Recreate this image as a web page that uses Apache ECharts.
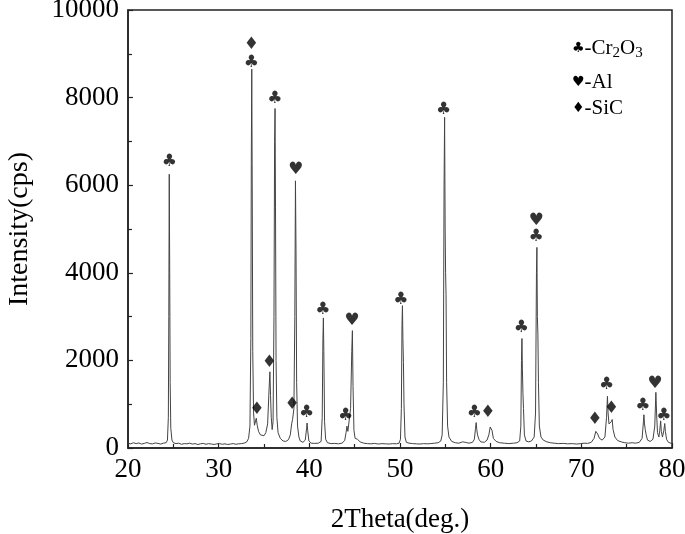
<!DOCTYPE html>
<html>
<head>
<meta charset="utf-8">
<script src="https://cdn.jsdelivr.net/npm/echarts@6/dist/echarts.min.js"></script>
<style>html,body{margin:0;padding:0;background:#fff;}#c{width:685px;height:534px;}</style>
</head>
<body>
<div id="c"></div>
<script>
// 2Theta (deg.) / Intensity (cps) pairs, split by angular range
const range20to34 = [[20.0,110],[20.3,95],[20.6,120],[20.9,100],[21.2,115],[21.5,90],[21.8,105],[22.1,125],[22.4,100],[22.7,95],[23.0,115],[23.3,105],[23.6,90],[23.9,110],[24.2,120],
  [24.35,180],[24.45,700],[24.5,3000],[24.55,6250],[24.6,4000],[24.65,1500],[24.72,450],[24.85,180],[25.0,120],
  [25.3,100],[25.6,110],[25.9,85],[26.2,100],[26.5,95],[26.8,110],[27.1,90],[27.4,100],[27.7,80],[28.0,95],[28.3,105],[28.6,85],[28.9,100],[29.2,90],[29.5,80],[29.8,95],[30.1,100],[30.4,85],[30.7,95],[31.0,80],[31.3,90],[31.6,100],[31.9,85],[32.2,95],[32.5,100],[32.8,110],[33.1,140],[33.3,220],
  [33.45,500],[33.55,2500],[33.6,6500],[33.65,8650],[33.7,6000],[33.76,2200],[33.85,800],[33.95,520]];
const range34to46 = [[34.05,560],[34.15,680],[34.25,520],[34.4,380],[34.6,300],[34.8,260],[35.0,280],[35.2,350],[35.4,550],[35.55,1300],[35.65,1740],[35.72,1200],[35.8,700],[35.9,420],
  [36.0,600],[36.1,3000],[36.17,7000],[36.22,7750],[36.27,5500],[36.33,2000],[36.42,700],[36.55,350],[36.8,220],[37.1,160],[37.4,150],[37.7,190],[37.9,300],[38.05,550],[38.15,650],
  [38.3,900],[38.4,3000],[38.47,6100],[38.53,4500],[38.6,1500],[38.7,500],[38.85,250],[39.0,160],[39.3,130],[39.55,180],[39.7,450],[39.75,570],[39.82,400],[39.95,160],
  [40.2,110],[40.6,105],[41.0,110],[41.3,150],[41.42,700],[41.5,2500],[41.55,2970],[41.6,2200],[41.68,600],[41.8,200],[42.0,120],[42.4,100],[42.8,105],[43.2,95],[43.6,110],
  [43.9,170],[44.05,350],[44.15,500],[44.25,380],[44.4,400],[44.55,900],[44.68,2200],[44.75,2680],[44.82,1400],[44.92,400],[45.05,220],[45.3,200],[45.6,140]];
const range46to62 = [[46.0,110],[46.4,100],[46.8,95],[47.2,105],[47.6,90],[48.0,100],[48.4,95],[48.8,90],[49.2,100],[49.6,95],[49.9,110],
  [50.05,200],[50.15,900],[50.22,2800],[50.27,3250],[50.32,2500],[50.38,1950],[50.44,1000],[50.55,250],[50.7,130],[51.0,110],[51.4,100],[51.8,95],[52.2,90],[52.6,100],[53.0,95],[53.4,100],[53.8,110],[54.2,120],
  [54.5,160],[54.65,300],[54.78,1500],[54.86,6000],[54.92,7550],[54.98,5000],[55.03,4000],[55.08,3500],[55.14,1500],[55.25,500],[55.4,250],[55.7,150],[56.1,120],[56.5,110],[56.9,140],[57.05,180],[57.2,130],[57.6,110],
  [58.0,130],[58.2,200],[58.33,450],[58.4,580],[58.47,420],[58.55,300],[58.7,200],[58.9,140],[59.3,130],[59.6,180],[59.8,300],[59.95,480],[60.05,520],[60.15,400],[60.3,220],[60.6,150],[61.0,120],[61.5,110]];
const range62to80 = [[62.0,100],[62.5,110],[62.9,120],[63.2,160],[63.33,500],[63.4,2000],[63.45,2500],[63.5,1800],[63.56,1250],[63.62,900],[63.72,300],[63.9,160],[64.2,140],
  [64.5,160],[64.8,250],[64.95,800],[65.05,4000],[65.1,4580],[65.15,3000],[65.21,2600],[65.27,1500],[65.37,500],[65.55,250],[65.8,180],[66.2,140],[66.6,120],[67.0,110],[67.5,100],[68.0,105],[68.5,95],[69.0,100],[69.5,90],[69.9,100],
  [70.3,110],[70.7,105],[71.1,130],[71.4,220],[71.6,380],[71.7,400],[71.8,320],[72.0,220],[72.3,180],[72.6,250],[72.78,700],[72.88,1180],[72.95,800],[73.05,550],[73.15,520],[73.3,600],[73.4,650],[73.5,420],[73.7,250],
  [74.0,170],[74.4,140],[74.8,120],[75.2,110],[75.6,120],[76.0,110],[76.4,130],[76.7,220],[76.85,600],[76.9,760],[76.97,550],[77.05,420],[77.15,300],[77.3,180],[77.6,150],
  [77.9,200],[78.1,500],[78.22,1270],[78.3,800],[78.4,350],[78.55,250],[78.65,400],[78.75,620],[78.82,380],[78.95,250],[79.1,400],[79.2,560],[79.27,380],[79.4,200],[79.6,130],[79.8,110],[80.0,100]];

// phase markers: [2Theta, intensity position, symbol]
const markerX = [24.55, 33.6, 33.6, 34.2, 35.6, 36.2, 38.5, 38.1, 39.7, 41.5, 44.0, 44.7, 50.1, 54.8, 58.2, 59.7, 63.4, 65.0, 65.0, 71.5, 72.8, 73.3, 76.8, 78.1, 79.1];
const markerY = [6530, 9200, 8810, 870, 1960, 7970, 6350, 1000, 820, 3150, 750, 2900, 3400, 7720, 800, 800, 2740, 5200, 4820, 640, 1440, 890, 960, 1480, 750];
const markerSym = ['♣','♦','♣','♦','♦','♣','♥','♦','♣','♣','♣','♥','♣','♣','♣','♦','♣','♥','♣','♦','♣','♦','♣','♥','♣'];

const xTicks = [20, 30, 40, 50, 60, 70, 80];
const yTicks = [0, 2000, 4000, 6000, 8000, 10000];

const pattern = range20to34.concat(range34to46, range46to62, range62to80);
const markers = markerX.map((x, i) => [x, markerY[i], markerSym[i]]);

const serif = '"Liberation Serif","Times New Roman",serif';
const chart = echarts.init(document.getElementById('c'));
chart.setOption({
  animation: false,
  backgroundColor: '#fff',
  grid: { left: 128, right: 13, top: 10, bottom: 86, containLabel: false, outerBoundsMode: 'none',
    show: true, borderColor: '#222', borderWidth: 1.5, backgroundColor: 'transparent' },
  xAxis: {
    type: 'value', min: xTicks[0], max: xTicks[xTicks.length - 1], interval: 10,
    name: '2Theta(deg.)', nameLocation: 'middle', nameGap: 58,
    nameTextStyle: { fontFamily: serif, fontSize: 27, color: '#000' },
    axisLine: { show: true, lineStyle: { color: '#222', width: 1.5 } },
    axisTick: { show: true, inside: true, length: 5, lineStyle: { color: '#222', width: 1.2 } },
    minorTick: { show: true, splitNumber: 2, length: 4, lineStyle: { color: '#222', width: 1.2 } },
    axisLabel: { fontFamily: serif, fontSize: 27, color: '#000', margin: 8, formatter: v => String(v) },
    splitLine: { show: false }
  },
  yAxis: {
    type: 'value', min: yTicks[0], max: yTicks[yTicks.length - 1], interval: 2000,
    name: 'Intensity(cps)', nameLocation: 'middle', nameGap: 94,
    nameTextStyle: { fontFamily: serif, fontSize: 28, color: '#000' },
    axisLine: { show: true, lineStyle: { color: '#222', width: 1.5 } },
    axisTick: { show: true, inside: true, length: 5, lineStyle: { color: '#222', width: 1.2 } },
    minorTick: { show: true, splitNumber: 2, length: 4, lineStyle: { color: '#222', width: 1.2 } },
    axisLabel: { fontFamily: serif, fontSize: 27, color: '#000', margin: 9, formatter: v => String(v) },
    splitLine: { show: false }
  },
  series: [
    {
      type: 'line', data: pattern, showSymbol: false, symbol: 'none',
      lineStyle: { color: '#444', width: 1 }, z: 2
    },
    {
      type: 'scatter', data: markers, symbol: 'circle', symbolSize: 1,
      itemStyle: { color: 'rgba(0,0,0,0)' },
      label: { show: true, position: 'inside', formatter: p => p.data[2], fontFamily: '"DejaVu Sans"', fontSize: 17, color: '#000' },
      z: 3
    }
  ],
  graphic: [
    { type: 'text', left: 572, top: 38, style: { text: '{s|♣}-Cr{sub|2}O{sub|3}', fontFamily: serif, fontSize: 21, fill: '#000',
      rich: { s: { fontFamily: '"DejaVu Sans"', fontSize: 14, fill: '#000' }, sub: { fontFamily: serif, fontSize: 15, verticalAlign: 'bottom', padding: [9, 0, 0, 0], fill: '#000' } } } },
    { type: 'text', left: 572, top: 72, style: { text: '{s|♥}-Al', fontFamily: serif, fontSize: 21, fill: '#000',
      rich: { s: { fontFamily: '"DejaVu Sans"', fontSize: 14, fill: '#000' } } } },
    { type: 'text', left: 572, top: 98, style: { text: '{s|♦}-SiC', fontFamily: serif, fontSize: 21, fill: '#000',
      rich: { s: { fontFamily: '"DejaVu Sans"', fontSize: 14, fill: '#000' } } } }
  ]
});
</script>
</body>
</html>
